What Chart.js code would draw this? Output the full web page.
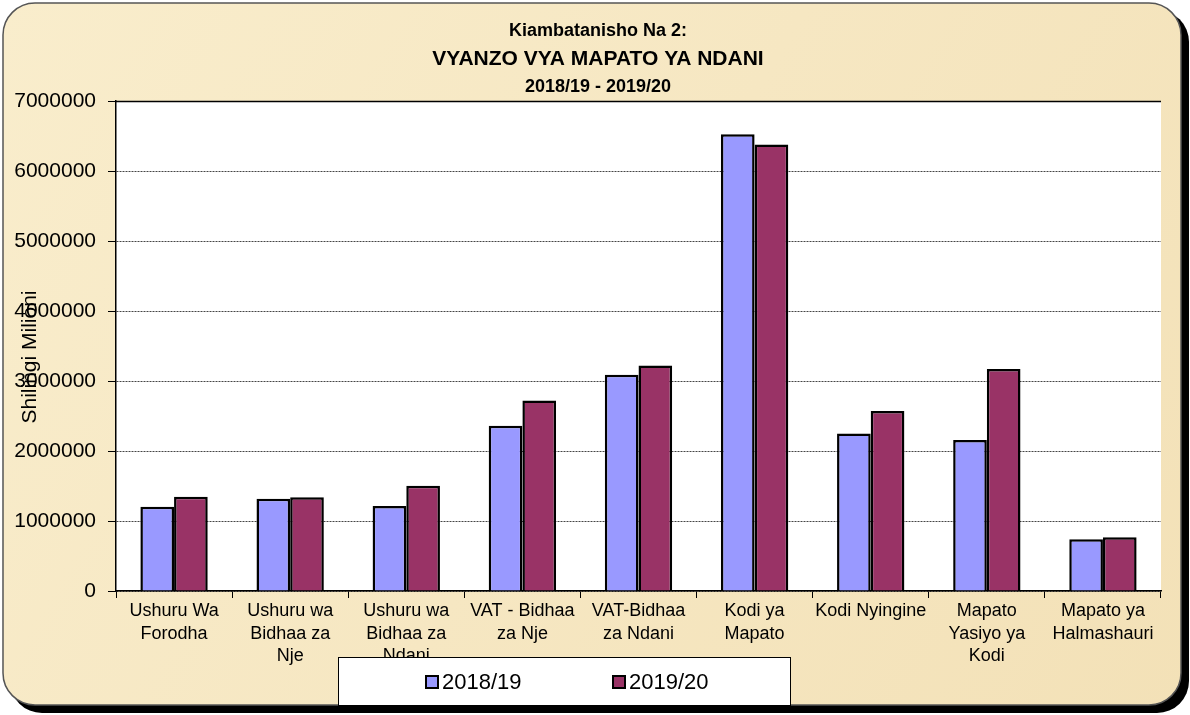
<!DOCTYPE html>
<html>
<head>
<meta charset="utf-8">
<script src="https://cdn.jsdelivr.net/npm/chart.js@4.4.0/dist/chart.umd.min.js"></script>
<style>
  html, body { margin: 0; padding: 0; background: #ffffff; }
  #wrap { position: relative; width: 1190px; height: 715px; }
  canvas { display: block; }
</style>
</head>
<body>
<div id="wrap"><canvas id="c" width="1190" height="715"></canvas></div>
<script>
// ---- Data ----
const titleLines = ["Kiambatanisho Na 2:", "VYANZO VYA MAPATO YA NDANI", "2018/19 - 2019/20"];
const yAxisTitle = "Shilingi Milioni";
const categories = [
  ["Ushuru Wa", "Forodha"],
  ["Ushuru wa", "Bidhaa za", "Nje"],
  ["Ushuru wa", "Bidhaa za", "Ndani"],
  ["VAT - Bidhaa", "za Nje"],
  ["VAT-Bidhaa", "za Ndani"],
  ["Kodi ya", "Mapato"],
  ["Kodi Nyingine"],
  ["Mapato", "Yasiyo ya", "Kodi"],
  ["Mapato ya", "Halmashauri"]
];
const seriesNames = ["2018/19", "2019/20"];
const values2018 = [1204000, 1319000, 1214000, 2360000, 3090000, 6524000, 2250000, 2157000, 738000];
const values2019 = [1347000, 1339000, 1504000, 2720000, 3220000, 6380000, 2570000, 3170000, 767000];
const yMin = 0, yMax = 7000000, yStep = 1000000;

const FONT = "'Liberation Sans', Arial, sans-serif";
const colors = ["#9999ff", "#993366"];

const framePlugin = {
  id: 'frame',
  beforeDraw(chart) {
    const ctx = chart.ctx;
    const ca = chart.chartArea;
    ctx.save();
    ctx.fillStyle = '#ffffff';
    ctx.fillRect(0, 0, chart.width, chart.height);
    // shadow
    ctx.fillStyle = '#000000';
    ctx.beginPath();
    ctx.roundRect(10, 10, 1179, 703, 32);
    ctx.fill();
    // parchment frame
    const g = ctx.createLinearGradient(0, 0, 1190, 715);
    g.addColorStop(0, '#f9edcc');
    g.addColorStop(0.5, '#f6e7c2');
    g.addColorStop(1, '#f3e1b7');
    ctx.fillStyle = g;
    ctx.beginPath();
    ctx.roundRect(3, 3, 1178, 702, 32);
    ctx.fill();
    ctx.strokeStyle = '#555555';
    ctx.lineWidth = 1.5;
    ctx.stroke();
    // plot area
    ctx.fillStyle = '#ffffff';
    ctx.fillRect(ca.left, ca.top, ca.right - ca.left, ca.bottom - ca.top);
    ctx.restore();
  },
  afterDraw(chart) {
    const ctx = chart.ctx;
    const ca = chart.chartArea;
    ctx.save();
    // top border of plot area
    ctx.strokeStyle = '#000';
    ctx.lineWidth = 1.5;
    ctx.beginPath();
    ctx.moveTo(ca.left, ca.top + 0.5);
    ctx.lineTo(ca.right, ca.top + 0.5);
    ctx.stroke();
    // title
    ctx.fillStyle = '#000';
    ctx.textAlign = 'center';
    ctx.textBaseline = 'middle';
    const ty = [31, 59, 87];
    const ts = [18, 21, 18];
    titleLines.forEach((t, i) => {
      ctx.font = "bold " + ts[i] + "px " + FONT;
      ctx.fillText(t, 598, ty[i]);
    });
    // y axis title
    ctx.save();
    ctx.translate(30, 357);
    ctx.rotate(-Math.PI / 2);
    ctx.font = "21px " + FONT;
    ctx.fillText(yAxisTitle, 0, 0);
    ctx.restore();
    // legend
    ctx.fillStyle = '#fff';
    ctx.fillRect(338.5, 657.5, 452, 48);
    ctx.strokeStyle = '#000';
    ctx.lineWidth = 1;
    ctx.strokeRect(338.5, 657.5, 452, 48);
    const lx = [426, 613];
    ctx.textAlign = 'left';
    ctx.font = "22px " + FONT;
    seriesNames.forEach((n, i) => {
      ctx.fillStyle = colors[i];
      ctx.fillRect(lx[i], 676, 12, 12);
      ctx.strokeStyle = '#000';
      ctx.lineWidth = 2;
      ctx.strokeRect(lx[i], 676, 12, 12);
      ctx.fillStyle = '#000';
      ctx.fillText(n, lx[i] + 16, 683);
    });
    ctx.restore();
  }
};

new Chart(document.getElementById('c'), {
  type: 'bar',
  data: {
    labels: categories,
    datasets: [
      { label: seriesNames[0], data: values2018, backgroundColor: colors[0], borderColor: '#000', borderWidth: 2.5, borderSkipped: 'bottom' },
      { label: seriesNames[1], data: values2019, backgroundColor: colors[1], borderColor: '#000', borderWidth: 2.5, borderSkipped: 'bottom' }
    ]
  },
  options: {
    responsive: false,
    animation: false,
    devicePixelRatio: 1,
    layout: { padding: { top: 101, left: 0, right: 29, bottom: 0 } },
    datasets: { bar: { categoryPercentage: 0.58, barPercentage: 1.0 } },
    plugins: {
      legend: { display: false },
      title: { display: false },
      tooltip: { enabled: false }
    },
    scales: {
      x: {
        afterFit(scale) { scale.height = 124; },
        grid: { display: true, drawOnChartArea: false, drawTicks: true, tickLength: 7, color: '#000', tickColor: '#000', offset: true },
        border: { display: true, color: '#000', width: 1.5 },
        ticks: { color: '#000', font: { family: FONT, size: 18, lineHeight: 1.25 }, padding: 2, maxRotation: 0, autoSkip: false }
      },
      y: {
        min: yMin, max: yMax,
        afterFit(scale) { scale.width = 116; },
        grid: { color: '#444', lineWidth: 1, drawTicks: true, tickLength: 8, tickColor: '#000', tickBorderDash: [] },
        border: { display: true, color: '#000', width: 1.5, dash: [2, 1] },
        ticks: { stepSize: yStep, color: '#000', font: { family: FONT, size: 21 }, padding: 12,
                 callback: (v) => String(v) }
      }
    }
  },
  plugins: [framePlugin]
});
</script>
</body>
</html>
